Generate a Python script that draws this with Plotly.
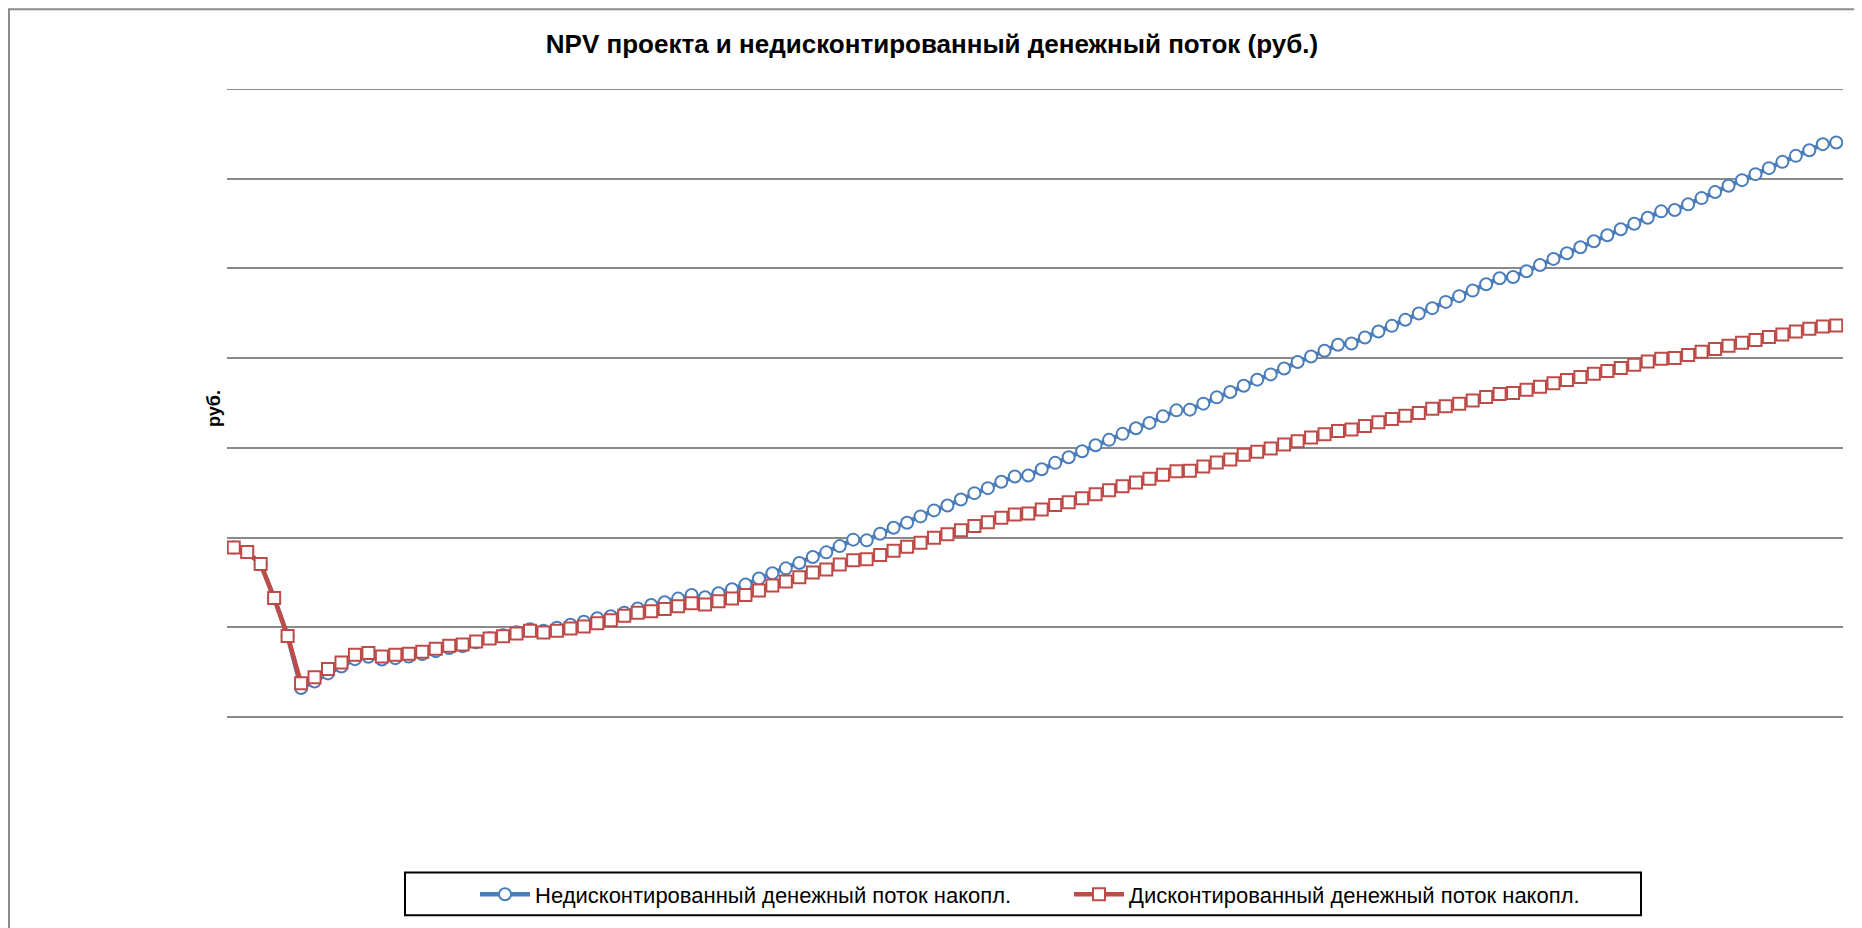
import plotly.graph_objects as go

title_text = "NPV проекта и недисконтированный денежный поток (руб.)"
y_title = "руб."
name_undisc = "Недисконтированный денежный поток накопл."
name_disc = "Дисконтированный денежный поток накопл."

# cumulative undiscounted cash flow (gridline units)
undiscounted = [1.888,1.839,1.705,1.327,0.904,0.323,0.395,0.486,0.562,0.645,0.671,0.640,
                0.656,0.673,0.701,0.734,0.768,0.790,0.834,0.879,0.912,0.946,0.979,0.962,
                0.996,1.029,1.062,1.101,1.123,1.162,1.209,1.249,1.279,1.320,1.360,1.335,
                1.379,1.424,1.476,1.543,1.602,1.657,1.716,1.783,1.835,1.905,1.977,1.969,
                2.043,2.110,2.166,2.236,2.303,2.358,2.425,2.495,2.551,2.622,2.681,2.692,
                2.761,2.833,2.895,2.962,3.029,3.089,3.156,3.218,3.278,3.351,3.418,3.426,
                3.493,3.563,3.623,3.693,3.760,3.819,3.885,3.957,4.019,4.082,4.149,4.164,
                4.230,4.297,4.360,4.427,4.497,4.557,4.627,4.691,4.753,4.824,4.891,4.905,
                4.969,5.039,5.106,5.169,5.236,5.303,5.369,5.436,5.498,5.565,5.636,5.651,
                5.714,5.784,5.851,5.921,5.984,6.051,6.118,6.188,6.255,6.318,6.385,6.404]

# cumulative discounted cash flow
discounted = [1.888,1.839,1.705,1.327,0.904,0.375,0.442,0.534,0.608,0.693,0.712,0.675,
              0.693,0.704,0.726,0.760,0.793,0.809,0.842,0.875,0.901,0.931,0.960,0.942,
              0.960,0.987,1.009,1.046,1.079,1.129,1.162,1.179,1.205,1.235,1.268,1.254,
              1.290,1.320,1.360,1.409,1.465,1.509,1.557,1.610,1.643,1.699,1.746,1.757,
              1.805,1.854,1.899,1.943,1.999,2.036,2.083,2.128,2.172,2.221,2.258,2.269,
              2.314,2.362,2.395,2.439,2.484,2.528,2.573,2.614,2.655,2.700,2.740,2.744,
              2.792,2.836,2.870,2.922,2.956,2.992,3.037,3.073,3.115,3.151,3.189,3.204,
              3.245,3.285,3.323,3.359,3.389,3.435,3.463,3.493,3.529,3.567,3.601,3.612,
              3.649,3.682,3.719,3.756,3.790,3.826,3.857,3.890,3.927,3.963,3.993,4.001,
              4.034,4.071,4.101,4.138,4.171,4.201,4.235,4.264,4.297,4.327,4.353,4.364]

months = list(range(1, len(discounted) + 1))
y_max = 7

BLUE = "#4A7EBB"
RED = "#BE4B48"
GRID = "#8A8A8A"
FONT = "Liberation Sans, Arial, sans-serif"

OFF = 8  # default page body margin
W, H = 1862 - OFF, 928 - OFF
L, R, T, B = 227 - OFF, W - (1843 - OFF), 89 - OFF, H - (719 - OFF)
pw, ph = W - L - R, H - T - B

def sx(p):  # screen px -> paper x
    return (p - OFF - L) / pw

def sy(p):  # screen px -> paper y
    return (H - B - (p - OFF)) / ph

fig = go.Figure()
fig.add_trace(go.Scatter(
    x=months, y=undiscounted, name=name_undisc, mode="lines+markers",
    line=dict(color=BLUE, width=4.5),
    marker=dict(symbol="circle", size=12, color="white", line=dict(color=BLUE, width=2)),
    legend="legend",
))
fig.add_trace(go.Scatter(
    x=months, y=discounted, name=name_disc, mode="lines+markers",
    line=dict(color=RED, width=4.5),
    marker=dict(symbol="square", size=12, color="white", line=dict(color=RED, width=2)),
    legend="legend2",
))

legend_common = dict(
    orientation="h", yanchor="middle", xanchor="left",
    font=dict(family=FONT, size=22, color="black"),
    bgcolor="rgba(0,0,0,0)", borderwidth=0, itemwidth=50,
)
fig.update_layout(
    width=W, height=H,
    paper_bgcolor="white", plot_bgcolor="white",
    margin=dict(l=L, r=R, t=T, b=B),
    title=dict(text="<b>" + title_text + "</b>", x=(932 - OFF) / W, xref="container",
               xanchor="center", y=1 - (44 - OFF) / H, yref="container", yanchor="middle",
               font=dict(family=FONT, size=26, color="black")),
    xaxis=dict(range=[0.5, len(months) + 0.5], showgrid=False, showticklabels=False,
               showline=False, zeroline=False, ticks=""),
    yaxis=dict(range=[0, y_max], dtick=1, showgrid=True, gridcolor=GRID, gridwidth=2,
               showticklabels=False, showline=False, zeroline=True, zerolinecolor=GRID,
               zerolinewidth=2, ticks=""),
    legend=dict(x=sx(475), y=sy(897), **legend_common),
    legend2=dict(x=sx(1069), y=sy(897), **legend_common),
    showlegend=True,
)

# top gridline (plotly skips gridlines lying on the plot edge)
fig.add_shape(type="line", xref="paper", yref="y", x0=0, x1=1, y0=y_max, y1=y_max,
              line=dict(color=GRID, width=2), layer="below")

fig.add_annotation(text="<b>" + y_title + "</b>", xref="paper", yref="paper",
                   x=sx(214), y=sy(410), xanchor="center", yanchor="middle",
                   textangle=-90, showarrow=False,
                   font=dict(family=FONT, size=18, color="black"))

# legend frame
fig.add_shape(type="rect", xref="paper", yref="paper",
              x0=sx(405), x1=sx(1641), y0=sy(918), y1=sy(875),
              line=dict(color="black", width=2), fillcolor="rgba(0,0,0,0)", layer="above")
# outer chart frame
fig.add_shape(type="rect", xref="paper", yref="paper",
              x0=sx(9), x1=sx(1859), y0=sy(945), y1=sy(9),
              line=dict(color="#8C8C8C", width=2), fillcolor="rgba(0,0,0,0)", layer="above")

fig.write_html("out.html")
